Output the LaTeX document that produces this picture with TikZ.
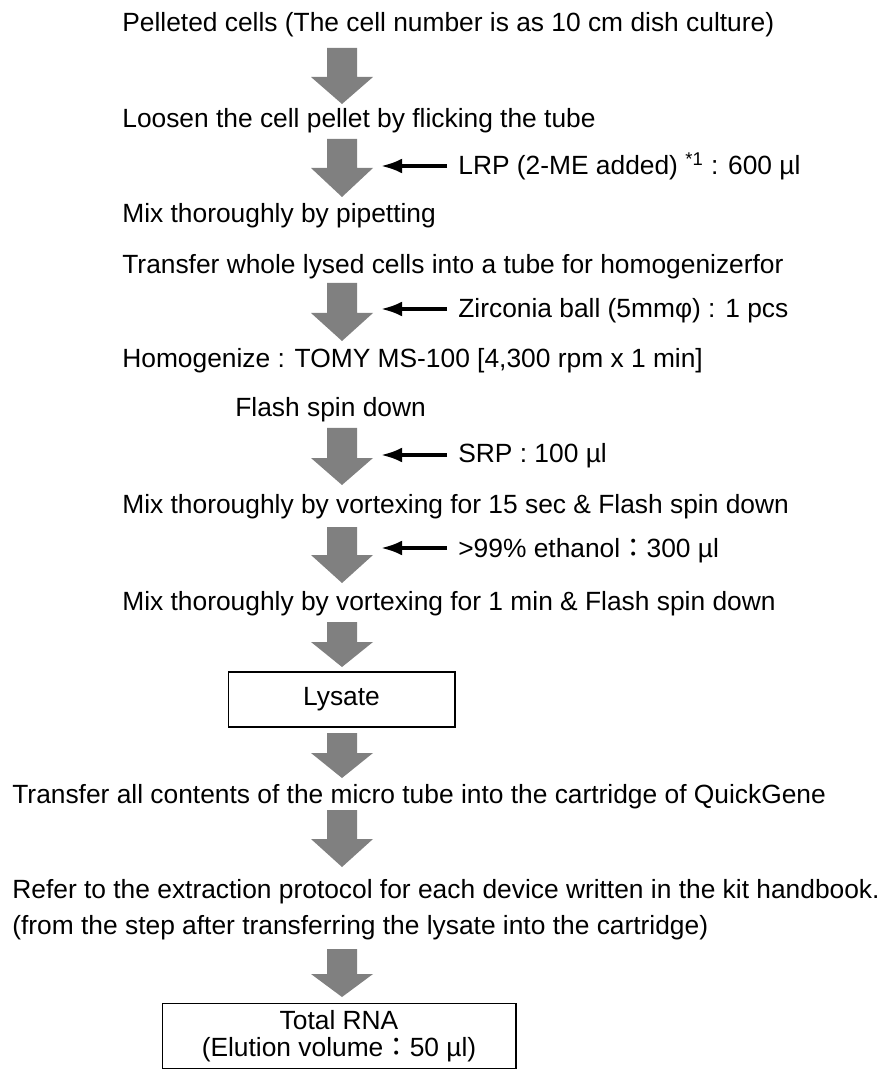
\documentclass[tikz,border=0pt]{standalone}
\usepackage{fontspec}
\setmainfont{Liberation Sans}
\newfontfamily\cjk{Noto Sans CJK JP}
\usetikzlibrary{arrows.meta}

\definecolor{flowgray}{RGB}{128,128,128}

% grey block arrow between two stages: top, start of head, tip
\newcommand{\flowdown}[3]{%
  \fill[flowgray] (327,#1) -- (357,#1) -- (357,#2) -- (373,#2)
    -- (342,#3) -- (311,#2) -- (327,#2) -- cycle;}

\tikzset{
  stagetext/.style={anchor=base west, inner sep=0pt, font=\fontsize{15}{18}\selectfont},
  addtext/.style={anchor=base west, inner xsep=0.22cm, inner ysep=0pt, font=\fontsize{15}{18}\selectfont},
  stagebox/.style={draw, line width=0.6pt, align=center, font=\fontsize{15}{15.5}\selectfont},
  feed/.style={-{Latex[length=12pt,width=8.5pt]}, line width=2pt}
}

\begin{document}
\begin{tikzpicture}[x=0.02cm, y=-0.02cm]
    \useasboundingbox (0,0) rectangle (887,1070);

    % stages
    \node[stagetext] (pellet) at (122,32) {Pelleted cells (The cell number is as 10 cm dish culture)};
    \node[stagetext] (loosen) at (122,128) {Loosen the cell pellet by flicking the tube};
    \node[stagetext] (pipet) at (122,223) {Mix thoroughly by pipetting};
    \node[stagetext] (transfer) at (122,274) {Transfer whole lysed cells into a tube for homogenizerfor};
    \node[stagetext] (homog) at (122,368) {Homogenize : TOMY MS-100 [4,300 rpm x 1 min]};
    \node[stagetext] (spin) at (235,417) {Flash spin down};
    \node[stagetext] (vortex) at (122,513) {Mix thoroughly by vortexing for 15 sec \& Flash spin down};
    \node[stagetext] (vortexb) at (122,610) {Mix thoroughly by vortexing for 1 min \& Flash spin down};
    \node[stagebox, minimum width=4.54cm, minimum height=1.1cm] (lysate) at (341.5,699.5) {Lysate};
    \node[stagetext] (cartridge) at (12,803) {Transfer all contents of the micro tube into the cartridge of QuickGene};
    \node[stagetext] (refer) at (12,898) {Refer to the extraction protocol for each device written in the kit handbook.};
    \node[stagetext] (fromstep) at (12,934) {(from the step after transferring the lysate into the cartridge)};
    \node[stagebox, minimum width=7.08cm, minimum height=1.3cm] (rna) at (339,1036)
        {Total RNA\\(Elution volume{\cjk ：}50 µl)};

    % block arrows
    \flowdown{48}{77}{104}
    \flowdown{139}{168}{197}
    \flowdown{283}{313}{341}
    \flowdown{428}{458}{485}
    \flowdown{527}{555}{583}
    \flowdown{622}{642}{667}
    \flowdown{733}{753}{778}
    \flowdown{810}{839}{867}
    \flowdown{949}{974}{997}

    % reagents added
    \coordinate (lrp tip) at (381,166);
    \coordinate (zirc tip) at (381,309);
    \coordinate (srp tip) at (381,455);
    \coordinate (etoh tip) at (381,548);
    \node[addtext] (lrp) at (447,175) {LRP (2-ME added) \textsuperscript{*1} : 600 µl};
    \node[addtext] (zirc) at (447,318) {Zirconia ball (5mmφ) : 1 pcs};
    \node[addtext] (srp) at (447,462) {SRP : 100 µl};
    \node[addtext] (etoh) at (447,557) {>99\% ethanol{\cjk ：}300 µl};
    \draw[feed] (lrp.west |- lrp tip) -- (lrp tip);
    \draw[feed] (zirc.west |- zirc tip) -- (zirc tip);
    \draw[feed] (srp.west |- srp tip) -- (srp tip);
    \draw[feed] (etoh.west |- etoh tip) -- (etoh tip);
\end{tikzpicture}
\end{document}
